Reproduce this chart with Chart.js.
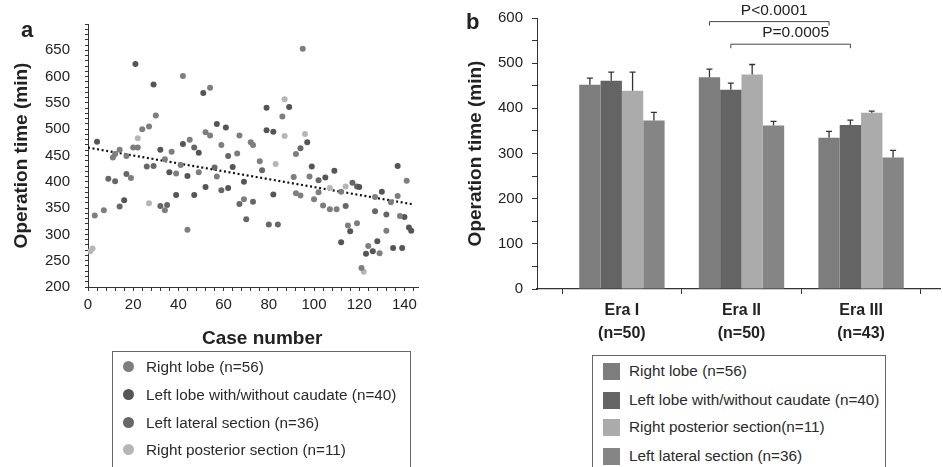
<!DOCTYPE html>
<html>
<head>
<meta charset="utf-8">
<title>Operation time</title>
<script src="https://cdn.jsdelivr.net/npm/chart.js@4.4.1/dist/chart.umd.min.js"></script>
<style>
  body { margin: 0; background: #fff; font-family: "Liberation Sans", Arial, sans-serif; color: #222; }
  #page { position: relative; width: 943px; height: 467px; overflow: hidden; background: #fff; }
  canvas { position: absolute; top: 0; }
  #chartA { left: 0; }
  #chartB { left: 460px; }
  .tag { position: absolute; font-weight: bold; font-size: 22px; line-height: 22px; }
  .xtitle { position: absolute; font-weight: bold; font-size: 19px; line-height: 20px; white-space: nowrap; }
  .legend { position: absolute; border: 1px solid #666; background: #fff; }
  .legend .row { position: absolute; height: 18px; line-height: 18px; font-size: 15.3px; white-space: nowrap; color: #2a2a2a; }
  .legend .dot { position: absolute; width: 11px; height: 11px; border-radius: 50%; }
  .legend .box { position: absolute; width: 17px; height: 17px; }
</style>
</head>
<body>
<div id="page">
  <canvas id="chartA" width="460" height="350"></canvas>
  <canvas id="chartB" width="483" height="350"></canvas>
  <div class="tag" style="left:21px;top:19px;">a</div>
  <div class="tag" style="left:466px;top:11px;">b</div>
  <div class="xtitle" style="left:202px;top:328px;">Case number</div>
  <div class="legend" id="legendA" style="left:112px;top:351px;width:297px;height:125px;"></div>
  <div class="legend" id="legendB" style="left:592px;top:355px;width:292px;height:125px;"></div>
</div>
<script>
// ---- panel a: operation time by case number ----
const rightLobeCase = [3, 7, 11, 12, 14, 17, 19, 20, 22, 24, 27, 30, 34, 34, 37, 39, 41, 42, 44, 45, 49, 52, 54, 54, 57, 59, 66, 67, 69, 72, 73, 76, 86, 91, 92, 92, 94, 95, 98, 100, 102, 104, 107, 110, 112, 115, 119, 121, 124, 127, 129, 132, 134, 137, 138, 141];
const rightLobeTime = [336, 346, 446, 453, 461, 449, 407, 465, 465, 500, 505, 526, 346, 443, 457, 416, 432, 601, 309, 480, 418, 494, 488, 579, 410, 470, 454, 488, 367, 475, 470, 439, 524, 409, 378, 453, 374, 653, 410, 367, 380, 355, 348, 348, 381, 317, 321, 236, 278, 371, 264, 307, 361, 373, 335, 402];

const leftLobeCase = [4, 16, 21, 29, 32, 36, 39, 42, 44, 47, 49, 51, 52, 57, 61, 62, 64, 69, 79, 79, 82, 82, 89, 97, 99, 105, 109, 112, 116, 120, 123, 126, 128, 130, 135, 137, 140, 139, 142, 143];
const leftLobeTime = [476, 365, 624, 585, 461, 418, 375, 472, 411, 375, 455, 569, 390, 510, 503, 388, 428, 400, 498, 541, 376, 495, 542, 475, 429, 408, 421, 285, 306, 390, 263, 268, 287, 381, 274, 430, 333, 274, 313, 307];

const leftLateralCase = [9, 12, 14, 17, 26, 29, 32, 35, 47, 56, 59, 62, 67, 70, 73, 77, 80, 84, 94, 102, 114, 117, 119, 127, 132];
const leftLateralTime = [406, 401, 353, 415, 429, 430, 354, 356, 465, 427, 384, 449, 358, 329, 362, 422, 319, 319, 464, 403, 354, 398, 391, 344, 338];

const rightPosteriorCase = [1, 2, 22, 27, 83, 87, 87, 96, 107, 114, 122];
const rightPosteriorTime = [268, 273, 483, 359, 434, 557, 487, 491, 388, 391, 229];

// fitted line, start and end
const trendCase = [0, 144];
const trendTime = [465, 357];

const scatterLabels = ['Right lobe (n=56)', 'Left lobe with/without caudate (n=40)', 'Left lateral section (n=36)', 'Right posterior section (n=11)'];

// ---- panel b: mean operation time per era ----
const eraNames = ['Era I', 'Era II', 'Era III'];
const eraCounts = ['(n=50)', '(n=50)', '(n=43)'];
const barLabels = ['Right lobe (n=56)', 'Left lobe with/without caudate (n=40)', 'Right posterior section(n=11)', 'Left lateral section (n=36)'];
const rightLobeMean = [452, 469, 335];
const leftLobeMean = [461, 441, 363];
const rightPosteriorMean = [439, 475, 390];
const leftLateralMean = [373, 362, 291];
const rightLobeErr = [467, 487, 349];
const leftLobeErr = [480, 456, 374];
const rightPosteriorErr = [480, 497, 394];
const leftLateralErr = [391, 371, 307];

// significance brackets: series index, first era, second era, level
const pTexts = ['P<0.0001', 'P=0.0005'];
const pSeries = [0, 1];
const pFrom = [1, 1];
const pTo = [2, 2];
const pLevel = [592, 542];

const fontFamily = '"Liberation Sans", Arial, sans-serif';
Chart.defaults.font.family = fontFamily;
Chart.defaults.color = '#222';

const dotColors = ['#7e7e7e', '#555555', '#676767', '#b6b6b6'];
const barColors = ['#7d7d7d', '#646464', '#ababab', '#858585'];
const axisColor = '#333';

const steps = (from, to, step) => {
    const out = [];
    for (let v = from; v <= to; v += step) out.push({ value: v });
    return out;
};
const zip = (xs, ys) => xs.map((x, i) => ({ x: x, y: ys[i] }));

const scatterCases = [rightLobeCase, leftLobeCase, leftLateralCase, rightPosteriorCase];
const scatterTimes = [rightLobeTime, leftLobeTime, leftLateralTime, rightPosteriorTime];

const scatterSets = scatterLabels.map((label, i) => ({
    label: label,
    data: zip(scatterCases[i], scatterTimes[i]),
    backgroundColor: dotColors[i],
    borderWidth: 0,
    pointRadius: 3
}));
scatterSets.push({
    type: 'line',
    label: 'trend',
    data: zip(trendCase, trendTime),
    borderColor: '#111',
    borderWidth: 2.2,
    borderDash: [2, 2.6],
    pointRadius: 0,
    fill: false
});

new Chart(document.getElementById('chartA'), {
    type: 'scatter',
    data: { datasets: scatterSets },
    options: {
        responsive: false,
        animation: false,
        layout: { padding: { left: 0, right: 42, top: 16, bottom: 0 } },
        plugins: { legend: { display: false }, tooltip: { enabled: false } },
        scales: {
            x: {
                type: 'linear', min: 0, max: 146,
                afterBuildTicks: s => { s.ticks = steps(0, 144, 4); },
                afterFit: s => { s.height = 63; },
                grid: { drawOnChartArea: false, tickLength: 4, color: axisColor },
                border: { color: axisColor, width: 1 },
                ticks: {
                    autoSkip: false, maxRotation: 0, padding: 5,
                    font: { size: 15 },
                    callback: v => (v % 20 === 0 ? v : '')
                }
            },
            y: {
                min: 200, max: 700,
                afterBuildTicks: s => { s.ticks = steps(200, 700, 10); },
                afterFit: s => { s.width = 88; },
                grid: { drawOnChartArea: false, tickLength: 3, color: axisColor },
                border: { color: axisColor, width: 1 },
                ticks: {
                    autoSkip: false, padding: 15,
                    font: { size: 15 },
                    callback: v => (v % 50 === 0 && v < 700 ? v : '')
                },
                title: {
                    display: true, text: 'Operation time (min)',
                    font: { size: 19, weight: 'bold' },
                    padding: { top: 10, bottom: 0 }
                }
            }
        }
    }
});

// ---- bar chart ----
const barMeans = [rightLobeMean, leftLobeMean, rightPosteriorMean, leftLateralMean];
const barErrs = [rightLobeErr, leftLobeErr, rightPosteriorErr, leftLateralErr];

const barSets = barLabels.map((label, i) => ({
    label: label,
    data: barMeans[i].map((v, k) => ({ x: k, y: v })),
    backgroundColor: barColors[i],
    borderWidth: 0,
    categoryPercentage: 0.714,
    barPercentage: 1.0
}));

const errorBars = {
    id: 'errorBars',
    afterDatasetsDraw(chart) {
        const { ctx } = chart;
        const y = chart.scales.y;
        ctx.save();
        ctx.strokeStyle = '#333';
        ctx.lineWidth = 1.3;
        barErrs.forEach((errs, di) => {
            chart.getDatasetMeta(di).data.forEach((bar, k) => {
                const top = y.getPixelForValue(errs[k]);
                ctx.beginPath();
                ctx.moveTo(bar.x, bar.y);
                ctx.lineTo(bar.x, top);
                ctx.moveTo(bar.x - 3, top);
                ctx.lineTo(bar.x + 3, top);
                ctx.stroke();
            });
        });
        ctx.restore();
    }
};

const brackets = {
    id: 'brackets',
    afterDraw(chart) {
        const { ctx } = chart;
        const y = chart.scales.y;
        ctx.save();
        ctx.strokeStyle = '#444';
        ctx.lineWidth = 1;
        ctx.fillStyle = '#222';
        ctx.font = '15.5px ' + fontFamily;
        ctx.textAlign = 'center';
        ctx.textBaseline = 'middle';
        pTexts.forEach((text, i) => {
            const bars = chart.getDatasetMeta(pSeries[i]).data;
            const x1 = bars[pFrom[i]].x;
            const x2 = bars[pTo[i]].x;
            const yl = y.getPixelForValue(pLevel[i]);
            ctx.beginPath();
            ctx.moveTo(x1, yl + 4);
            ctx.lineTo(x1, yl);
            ctx.lineTo(x2, yl);
            ctx.lineTo(x2, yl + 4);
            ctx.stroke();
            ctx.fillText(text, (x1 + x2) / 2 + 5, yl - 11);
        });
        ctx.restore();
    }
};

new Chart(document.getElementById('chartB'), {
    type: 'bar',
    data: { datasets: barSets },
    plugins: [errorBars, brackets],
    options: {
        responsive: false,
        animation: false,
        layout: { padding: { left: 0, right: 3, top: 17, bottom: 0 } },
        plugins: { legend: { display: false }, tooltip: { enabled: false } },
        scales: {
            x: {
                type: 'linear', min: -0.71, max: 2.66, offset: false,
                afterBuildTicks: s => { s.ticks = eraNames.map((_, k) => ({ value: k })); },
                afterFit: s => { s.height = 61; },
                grid: { drawOnChartArea: false, tickLength: 5, color: axisColor },
                border: { color: axisColor, width: 1.2 },
                ticks: {
                    autoSkip: false, maxRotation: 0, padding: 5,
                    font: { size: 16, weight: 'bold', lineHeight: 1.45 },
                    callback: v => [eraNames[v], eraCounts[v]]
                }
            },
            y: {
                min: 0, max: 600,
                afterBuildTicks: s => { s.ticks = steps(0, 600, 50); },
                afterFit: s => { s.width = 77; },
                grid: { drawOnChartArea: false, tickLength: 5, color: axisColor },
                border: { color: axisColor, width: 1 },
                ticks: {
                    autoSkip: false, padding: 9,
                    font: { size: 15 },
                    callback: v => (v % 100 === 0 ? v : '')
                },
                title: {
                    display: true, text: 'Operation time (min)',
                    font: { size: 19, weight: 'bold' },
                    padding: { top: 4, bottom: 0 }
                }
            }
        }
    }
});

// ---- boxed legends ----
const legendA = document.getElementById('legendA');
const rowsA = [15, 43, 71, 98];
scatterLabels.forEach((label, i) => {
    const dot = document.createElement('div');
    dot.className = 'dot';
    dot.style.left = '10px';
    dot.style.top = (rowsA[i] - 6) + 'px';
    dot.style.background = dotColors[i];
    legendA.appendChild(dot);
    const row = document.createElement('div');
    row.className = 'row';
    row.style.left = '33px';
    row.style.top = (rowsA[i] - 9) + 'px';
    row.textContent = label;
    legendA.appendChild(row);
});

const legendB = document.getElementById('legendB');
const rowsB = [15, 44, 71, 100];
barLabels.forEach((label, i) => {
    const box = document.createElement('div');
    box.className = 'box';
    box.style.left = '10px';
    box.style.top = (rowsB[i] - 8) + 'px';
    box.style.background = barColors[i];
    legendB.appendChild(box);
    const row = document.createElement('div');
    row.className = 'row';
    row.style.left = '36px';
    row.style.top = (rowsB[i] - 9) + 'px';
    row.textContent = label;
    legendB.appendChild(row);
});
</script>
</body>
</html>
